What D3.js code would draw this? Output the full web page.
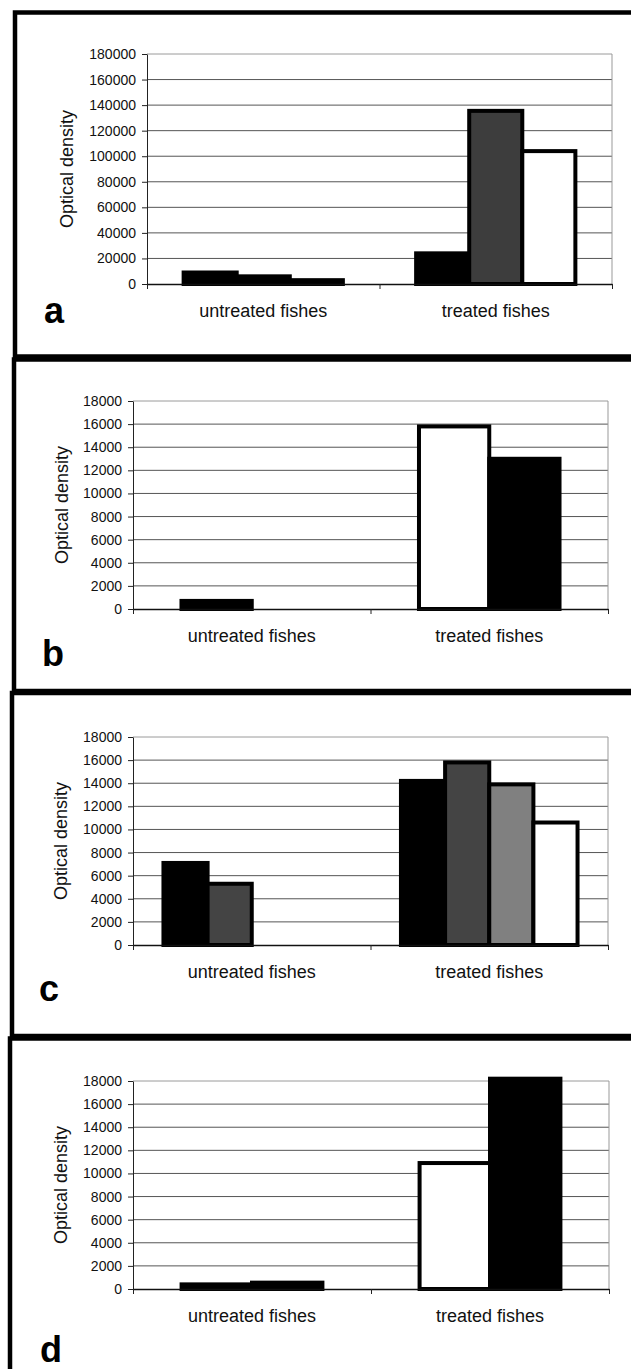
<!DOCTYPE html>
<html>
<head>
<meta charset="utf-8">
<script src="https://cdn.jsdelivr.net/npm/d3@7"></script>
<style>
  body { margin: 0; background: #fff; }
  svg { display: block; font-family: "Liberation Sans", Arial, sans-serif; }
</style>
</head>
<body>
<div id="chart"></div>
<script>
// categories and tick values
const categories = ["untreated fishes", "treated fishes"];
const panelLetters = ["a", "b", "c", "d"];
const ticksBig = [0, 20000, 40000, 60000, 80000, 100000, 120000, 140000, 160000, 180000];
const ticksSmall = [0, 2000, 4000, 6000, 8000, 10000, 12000, 14000, 16000, 18000];

// panel a : 3 series
const aUntreated = [9000, 6000, 3000];
const aTreated = [24000, 135500, 104000];
// panel b : 2 series
const bUntreated = [700, 0];
const bTreated = [15800, 13000];
// panel c : 4 series
const cUntreated = [7100, 5300, 0, 0];
const cTreated = [14200, 15800, 13900, 10600];
// panel d : 2 series
const dUntreated = [400, 550];
const dTreated = [10900, 18200];

// series fills (style)
const aFills = ["#000", "#3d3d3d", "#fff"];
const bFills = ["#fff", "#000"];
const cFills = ["#000", "#444", "#808080", "#fff"];
const dFills = ["#fff", "#000"];

const width = 631, height = 1369;

const svg = d3.select("#chart")
  .append("svg")
    .attr("width", width)
    .attr("height", height);

svg.append("rect")
  .attr("width", width)
  .attr("height", height)
  .attr("fill", "#fff");

// layout of each panel (frame + plot area)
const panels = [
  { letter: panelLetters[0], values: [aUntreated, aTreated], fills: aFills, ticks: ticksBig,
    frame: { x: 15, y: 12.5, h: 344 }, left: 147, right: 612, top: 54, bottom: 284,
    titleX: 73, letterX: 44, letterY: 323 },
  { letter: panelLetters[1], values: [bUntreated, bTreated], fills: bFills, ticks: ticksSmall,
    frame: { x: 14, y: 359.5, h: 331.5 }, left: 133, right: 608, top: 401, bottom: 609,
    titleX: 68, letterX: 42, letterY: 666 },
  { letter: panelLetters[2], values: [cUntreated, cTreated], fills: cFills, ticks: ticksSmall,
    frame: { x: 12, y: 693, h: 343 }, left: 133, right: 608, top: 737, bottom: 945,
    titleX: 67, letterX: 39, letterY: 1001 },
  { letter: panelLetters[3], values: [dUntreated, dTreated], fills: dFills, ticks: ticksSmall,
    frame: { x: 10, y: 1038.5, h: 500 }, left: 133, right: 609, top: 1081, bottom: 1289,
    titleX: 67, letterX: 40, letterY: 1362 }
];

const drawPanel = (p) => {
  const g = svg.append("g").attr("class", "panel");

  const yscale = d3.scaleLinear()
    .domain([0, p.ticks[p.ticks.length - 1]])
    .range([p.bottom, p.top]);

  const xscale = d3.scaleBand()
    .domain(categories)
    .range([p.left, p.right]);

  const inner = d3.scaleBand()
    .domain(d3.range(p.fills.length))
    .range([0, xscale.bandwidth()])
    .paddingOuter(0.69);

  // gridlines
  g.append("g")
    .attr("class", "grid")
    .selectAll("line")
    .data(p.ticks.slice(1))
    .enter().append("line")
      .attr("x1", p.left)
      .attr("x2", p.right)
      .attr("y1", d => yscale(d))
      .attr("y2", d => yscale(d))
      .attr("stroke", (d, i) => i === p.ticks.length - 2 ? "#9a9a9a" : "#555")
      .attr("stroke-width", 1);

  // right edge of plot
  g.append("line")
    .attr("x1", p.right).attr("x2", p.right)
    .attr("y1", p.top).attr("y2", p.bottom)
    .attr("stroke", "#999");

  // bars
  categories.forEach((c, ci) => {
    const bars = p.values[ci]
      .map((v, i) => ({ v, i }))
      .filter(d => d.v > 0);
    g.append("g")
      .attr("class", "bar")
      .selectAll("rect")
      .data(bars)
      .enter().append("rect")
        .attr("x", d => xscale(c) + inner(d.i))
        .attr("y", d => yscale(d.v))
        .attr("width", inner.bandwidth())
        .attr("height", d => p.bottom - yscale(d.v))
        // very short bars are swallowed by their border
        .attr("fill", d => (p.bottom - yscale(d.v)) < 12 ? "#000" : p.fills[d.i])
        .attr("stroke", "#000")
        .attr("stroke-width", 4);
  });

  // y axis
  const yAxis = d3.axisLeft(yscale)
    .tickValues(p.ticks)
    .tickSize(5)
    .tickSizeOuter(0)
    .tickPadding(6)
    .tickFormat(d => d);

  const ya = g.append("g")
    .attr("class", "axis")
    .attr("transform", `translate(${p.left},0)`)
    .call(yAxis);
  ya.selectAll("text")
    .attr("font-size", 14)
    .attr("font-family", "Liberation Sans, Arial, sans-serif")
    .attr("fill", "#111");
  ya.selectAll("line, path").attr("stroke", "#222");

  // x axis with ticks on category boundaries
  const edge = d3.scaleLinear().domain([0, categories.length]).range([p.left, p.right]);
  const xa = g.append("g")
    .attr("class", "axis")
    .attr("transform", `translate(0,${p.bottom})`)
    .call(d3.axisBottom(edge)
      .tickValues(d3.range(categories.length + 1))
      .tickSize(5)
      .tickSizeOuter(0)
      .tickFormat(""));
  xa.selectAll("line").attr("stroke", "#222");
  xa.select("path").attr("stroke", "#111").attr("stroke-width", 1.6);

  // category labels
  g.selectAll(".cat")
    .data(categories)
    .enter().append("text")
      .attr("class", "cat")
      .attr("x", d => xscale(d) + xscale.bandwidth() / 2)
      .attr("y", p.bottom + 33)
      .attr("text-anchor", "middle")
      .attr("font-size", 18)
      .attr("fill", "#111")
      .text(d => d);

  // axis title
  g.append("text")
    .attr("transform", `translate(${p.titleX},${(p.top + p.bottom) / 2}) rotate(-90)`)
    .attr("text-anchor", "middle")
    .attr("font-size", 18)
    .attr("fill", "#111")
    .text("Optical density");

  // panel letter
  g.append("text")
    .attr("x", p.letterX)
    .attr("y", p.letterY)
    .attr("font-size", 36)
    .attr("font-weight", "bold")
    .attr("fill", "#000")
    .text(p.letter);

  // frame, runs off the right side of the page
  g.append("rect")
    .attr("x", p.frame.x)
    .attr("y", p.frame.y)
    .attr("width", 800)
    .attr("height", p.frame.h)
    .attr("fill", "none")
    .attr("stroke", "#000")
    .attr("stroke-width", 4.5);
};

panels.forEach(drawPanel);
</script>
</body>
</html>
